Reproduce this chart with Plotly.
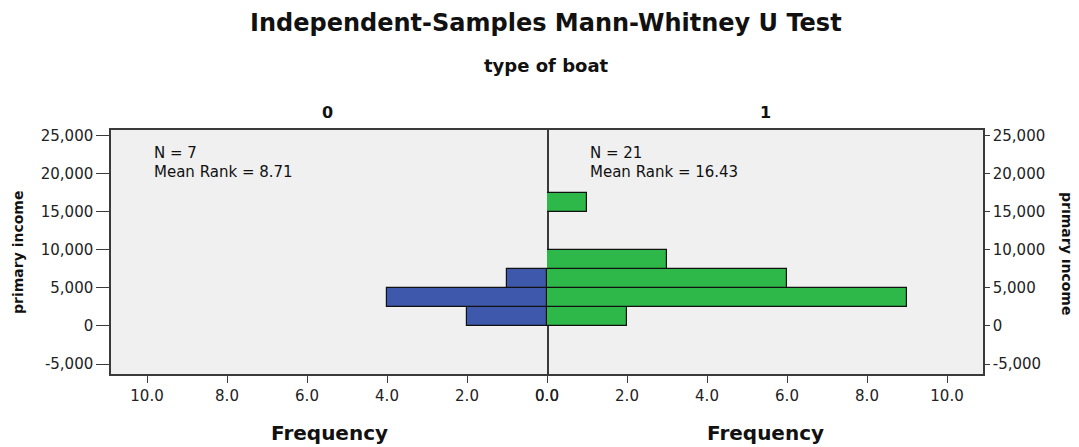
import plotly.graph_objects as go

# ---- data ----
bin_lower = [0, 2500, 5000, 7500, 10000, 12500, 15000]
bin_width = 2500
counts_boat0 = [2, 4, 1, 0, 0, 0, 0]
counts_boat1 = [2, 9, 6, 3, 0, 0, 1]
group_labels = ["0", "1"]
group_n = [7, 21]
group_mean_rank = [8.71, 16.43]
y_tick_vals = [-5000, 0, 5000, 10000, 15000, 20000, 25000]
y_tick_text = ["-5,000", "0", "5,000", "10,000", "15,000", "20,000", "25,000"]
x_tick_vals = [0, 2, 4, 6, 8, 10]
x_tick_text = ["0.0", "2.0", "4.0", "6.0", "8.0", "10.0"]

FONT = "DejaVu Sans"
BLUE = "#3E58AC"
GREEN = "#2EB84A"
AX = "#3a3a3a"

def nonzero(counts):
    ys, xs = [], []
    for lo, c in zip(bin_lower, counts):
        if c > 0:
            ys.append(lo + bin_width / 2)
            xs.append(c)
    return ys, xs

y0, x0 = nonzero(counts_boat0)
y1, x1 = nonzero(counts_boat1)

fig = go.Figure()
fig.add_trace(go.Bar(y=y0, x=x0, orientation="h", width=bin_width,
                     marker=dict(color=BLUE, line=dict(color="#111", width=1.2)),
                     xaxis="x", yaxis="y", showlegend=False))
fig.add_trace(go.Bar(y=y1, x=x1, orientation="h", width=bin_width,
                     marker=dict(color=GREEN, line=dict(color="#111", width=1.2)),
                     xaxis="x2", yaxis="y2", showlegend=False))

yr = [-6300, 25720]
xr = 10.9
tickfont = dict(family=FONT, size=15, color="#222")

# page body has an 8px margin: figure is drawn from (8, 8)
OFF = 8
fig.update_layout(
    width=1079 - OFF, height=447 - OFF,
    margin=dict(l=111 - OFF, r=96, t=130 - OFF, b=73),
    paper_bgcolor="white", plot_bgcolor="#F0F0F0",
    bargap=0,
    xaxis=dict(domain=[0, 0.5], range=[xr, 0], tickvals=x_tick_vals, ticktext=x_tick_text,
               showgrid=False, zeroline=False, showline=True, mirror=True,
               linecolor=AX, linewidth=1.5, ticks="outside", ticklen=7, tickcolor=AX,
               tickfont=tickfont, anchor="y"),
    xaxis2=dict(domain=[0.5, 1], range=[0, xr], tickvals=x_tick_vals, ticktext=x_tick_text,
                showgrid=False, zeroline=False, showline=True, mirror=True,
                linecolor=AX, linewidth=1.5, ticks="outside", ticklen=7, tickcolor=AX,
                tickfont=tickfont, anchor="y2"),
    yaxis=dict(range=yr, tickvals=y_tick_vals, ticktext=y_tick_text,
               showgrid=False, zeroline=False, showline=True, mirror=True,
               linecolor=AX, linewidth=1.5, ticks="outside", ticklen=13, tickcolor=AX,
               tickfont=tickfont, anchor="x"),
    yaxis2=dict(range=yr, tickvals=y_tick_vals, ticktext=y_tick_text, side="right",
                showgrid=False, zeroline=False, showline=True, mirror=False,
                linecolor=AX, linewidth=1.5, ticks="outside", ticklen=5, tickcolor=AX,
                tickfont=tickfont, anchor="x2", matches="y"),
)

ann = []
L, T, PW, PH = 111, 130, 872, 244
def px(xs): return (xs - L) / PW
def py(ys): return 1 - (ys - T) / PH

def txt(text, x, y, size, bold=False, xanchor="center", **kw):
    t = f"<b>{text}</b>" if bold else text
    d = dict(text=t, x=px(x), y=py(y), xref="paper", yref="paper", showarrow=False,
             xanchor=xanchor, yanchor="middle",
             font=dict(family=FONT, size=size, color="#111"))
    d.update(kw)
    ann.append(d)

txt("Independent-Samples Mann-Whitney U Test", 546, 23, 24, True)
txt("type of boat", 546, 66, 18, True)
txt(group_labels[0], 327, 112, 16, True)
txt(group_labels[1], 765, 112, 16, True)
txt("Frequency", 329, 433, 20, True)
txt("Frequency", 765, 433, 20, True)
txt("primary income", 18, 253, 14, True, textangle=-90)
txt("primary income", 1067, 253, 14, True, textangle=90)

for i, xl in enumerate([152, 588]):
    txt(f"N = {group_n[i]}", xl, 153, 15, xanchor="left")
    txt(f"Mean Rank = {group_mean_rank[i]:.2f}", xl, 172, 15, xanchor="left")

fig.update_layout(annotations=ann)
fig.write_html("out.html")
